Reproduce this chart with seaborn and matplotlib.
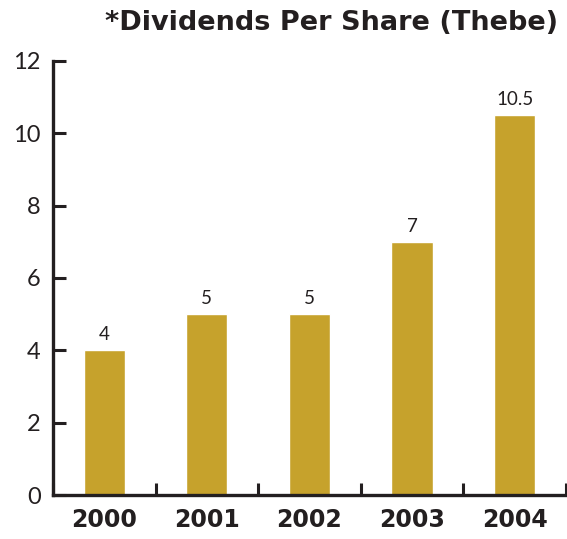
import numpy as np
import pandas as pd
import matplotlib
matplotlib.use("Agg")
import matplotlib.pyplot as plt
import seaborn as sns

years = ["2000", "2001", "2002", "2003", "2004"]
dividends = [4, 5, 5, 7, 10.5]
value_labels = ["4", "5", "5", "7", "10.5"]

df = pd.DataFrame({"year": years, "dps": dividends})

sns.set_theme(style="ticks")
plt.rcParams["font.family"] = ["Lato", "DejaVu Sans"]
ink = "#231F20"
gold = "#C6A22C"
heavy = ["DejaVu Sans"]

fig = plt.figure(figsize=(5.67, 5.39), dpi=100)
ax = fig.add_axes([0.0935, 0.0816, 0.9045, 0.8054])

sns.barplot(data=df, x="year", y="dps", color=gold, width=0.4,
            saturation=1, ax=ax)

for i, (v, lab) in enumerate(zip(dividends, value_labels)):
    ax.text(i, v + 0.2, lab, ha="center", va="bottom", fontsize=13.5, color=ink)

ax.set_xlim(-0.5, 4.5)
ax.set_ylim(0, 12)
ax.set_yticks(range(0, 13, 2))
ax.set_xticks(np.arange(-0.5, 4.6, 1), minor=False)
ax.set_xticklabels([])
ax.set_xticks(range(5), minor=True)
ax.set_xticklabels(years, minor=True, fontsize=17, fontweight="bold",
                   family=heavy, color=ink)
ax.tick_params(axis="x", which="major", direction="in", length=9, width=2.2, color=ink)
ax.tick_params(axis="x", which="minor", length=0, pad=9)
ax.tick_params(axis="y", direction="in", length=9, width=2.2, color=ink,
               labelsize=17, labelcolor=ink, pad=9)
ax.set_xlabel("")
ax.set_ylabel("")
sns.despine(ax=ax)
for s in ["left", "bottom"]:
    ax.spines[s].set_linewidth(2.4)
    ax.spines[s].set_color(ink)

fig.text(0.985, 0.957, "*Dividends Per Share (Thebe)", ha="right", va="center",
         fontsize=19.5, fontweight="bold", family=heavy, color=ink)

fig.savefig("out.png", dpi=100)
